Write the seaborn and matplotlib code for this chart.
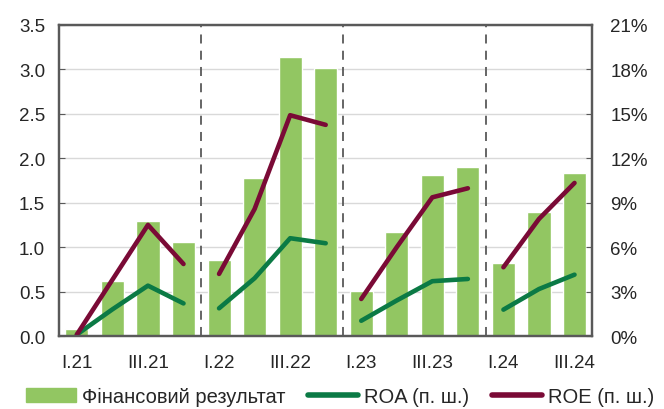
import numpy as np
import pandas as pd
import matplotlib.pyplot as plt
import seaborn as sns
from matplotlib.patches import Patch
from matplotlib.lines import Line2D

quarters = ['I.21', 'II.21', 'III.21', 'IV.21',
            'I.22', 'II.22', 'III.22', 'IV.22',
            'I.23', 'II.23', 'III.23', 'IV.23',
            'I.24', 'II.24', 'III.24']
years = ['21'] * 4 + ['22'] * 4 + ['23'] * 4 + ['24'] * 3
fin_result = [0.08, 0.62, 1.29, 1.06,
              0.86, 1.78, 3.14, 3.01,
              0.51, 1.17, 1.81, 1.90,
              0.82, 1.39, 1.83]
roa = [0.1, 1.8, 3.4, 2.2,
       1.87, 3.9, 6.6, 6.26,
       1.03, 2.4, 3.7, 3.85,
       1.78, 3.17, 4.14]
roe = [0.1, 3.8, 7.5, 4.86,
       4.19, 8.57, 14.9, 14.25,
       2.5, 6.0, 9.36, 9.97,
       4.64, 7.9, 10.33]
tick_labels = ['I.21', '', 'III.21', '', 'I.22', '', 'III.22', '',
               'I.23', '', 'III.23', '', 'I.24', '', 'III.24']
legend_labels = ['Фінансовий результат', 'ROA (п. ш.)', 'ROE (п. ш.)']

df = pd.DataFrame({'quarter': quarters, 'year': years,
                   'fin': fin_result, 'roa': roa, 'roe': roe})
df['pos'] = np.arange(len(df))

sns.set_style('white')
plt.rcParams['font.family'] = ['Liberation Sans', 'DejaVu Sans']

bar_c = '#92c662'
roa_c = '#0b7a45'
roe_c = '#7a0a36'
spine_c = '#595959'

fig = plt.figure(figsize=(6.64, 4.10), dpi=100)
ax = fig.add_axes([0.089, 0.178, 0.803, 0.759])

sns.barplot(data=df, x='quarter', y='fin', order=quarters, color=bar_c,
            width=0.65, saturation=1, ax=ax)
ax.set_ylim(0, 3.5)
ax.set_yticks(np.arange(0, 3.51, 0.5))
ax.set_yticklabels([f'{v:.1f}' for v in np.arange(0, 3.51, 0.5)])
ax.set_xlim(-0.5, len(quarters) - 0.5)
ax.set_xticks(np.arange(len(quarters)))
ax.set_xticklabels(tick_labels)
ax.set_xticks(np.arange(-0.5, len(quarters), 1), minor=True)
ax.yaxis.grid(True, color='#d9d9d9', lw=1)
ax.set_axisbelow(True)
ax.set_xlabel('')
ax.set_ylabel('')
for b in [3.5, 7.5, 11.5]:
    ax.axvline(b, color='#595959', ls=(0, (5, 4)), lw=1.3, zorder=1)

ax2 = ax.twinx()
sns.lineplot(data=df, x='pos', y='roa', units='year', estimator=None,
             color=roa_c, lw=3.3, ax=ax2, legend=False)
sns.lineplot(data=df, x='pos', y='roe', units='year', estimator=None,
             color=roe_c, lw=3.3, ax=ax2, legend=False)
ax2.set_ylim(0, 21)
ax2.set_yticks(np.arange(0, 22, 3))
ax2.set_yticklabels([f'{v}%' for v in range(0, 22, 3)])
ax2.set_ylabel('')
ax2.set_xlabel('')
ax2.set_xlim(-0.5, len(quarters) - 0.5)

for a in (ax, ax2):
    for s in a.spines.values():
        s.set_color(spine_c)
        s.set_linewidth(1.6)
        s.set_visible(True)
ax.tick_params(axis='y', direction='in', length=4, color=spine_c, labelsize=13.5, pad=10)
ax.tick_params(axis='x', which='major', length=0, labelsize=13.5, pad=13)
ax.tick_params(axis='x', which='minor', direction='in', length=4, color=spine_c)
ax2.tick_params(axis='y', direction='in', length=4, color=spine_c, labelsize=13.5, pad=13)

handles = [Patch(color=bar_c),
           Line2D([], [], color=roa_c, lw=4),
           Line2D([], [], color=roe_c, lw=4)]
fig.legend(handles, legend_labels, loc='center', bbox_to_anchor=(0.512, 0.03), ncol=3,
           frameon=False, fontsize=14.5, handlelength=2.5, columnspacing=1.1,
           handletextpad=0.3, borderaxespad=0)

plt.savefig('out.png', dpi=100)
